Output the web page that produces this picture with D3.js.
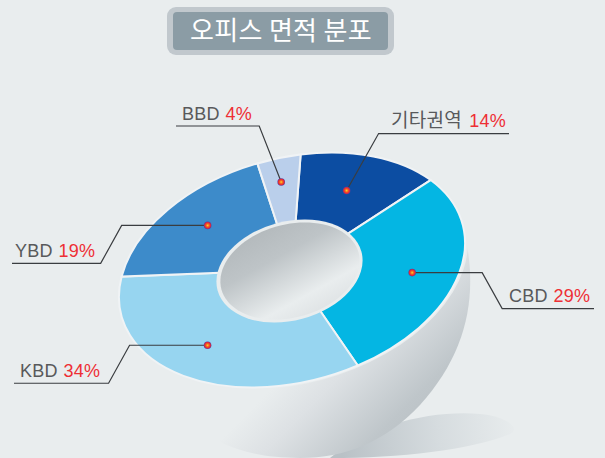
<!DOCTYPE html>
<html><head><meta charset="utf-8">
<script src="https://cdn.jsdelivr.net/npm/d3@7/dist/d3.min.js"></script>
<style>html,body{margin:0;padding:0;background:#e9edee;overflow:hidden}svg{display:block}
text{font-family:"Liberation Sans","Noto Sans CJK KR",sans-serif}</style></head><body>
<script>
const titleText = "오피스 면적 분포";
const categories = ["기타권역","CBD","KBD","YBD","BBD"];
const percents = [14,29,34,19,4];
const colors = ["#0c4da2","#04b6e3","#97d5f0","#3d8bca","#bacfeb"];
const dotRadii = [123,127,129,124,139];
const dotFractions = [0.478,0.496,0.525,0.526,0.486];
// leader layout: elbow dx, drop dy, end x, text x
const shelfDir = [[32,-57,509,391],[70,36,594,509],[-78,38,14,20],[-86,38,12,15],[-22,-56,176,182]];
const cx=292, cy=270, tilt=-15, squash=0.634, R=176.6, r0=74, start=12.5;
const bg="#e9edee";

const svg=d3.select("body").append("svg").attr("width",605).attr("height",458);
const defs=svg.append("defs");
function lin(id,x1,y1,x2,y2,stops){const g=defs.append("linearGradient").attr("id",id).attr("gradientUnits","userSpaceOnUse")
 .attr("x1",x1).attr("y1",y1).attr("x2",x2).attr("y2",y2);
 stops.forEach(s=>g.append("stop").attr("offset",s[0]).attr("stop-color",s[1]));}
lin("bowl",330,330,425,425,[[0,bg],[0.3,"#dde1e4"],[0.8,"#bfc6ca"],[1,"#bac1c5"]]);
lin("shadow",340,440,520,420,[[0,"#b9c1c6"],[0.55,"#d6dcdf"],[1,bg]]);
lin("hole",265,228,316,320,[[0,"#b4babd"],[0.3,"#bec4c7"],[0.75,bg],[1,"#dde1e3"]]);
const dg=defs.append("radialGradient").attr("id","dot");
[[0,"#ffd52a"],[0.4,"#f5641f"],[0.75,"#e2263a"],[1,"#5a3f9a"]].forEach(s=>dg.append("stop").attr("offset",s[0]).attr("stop-color",s[1]));

// title
svg.append("rect").attr("x",167).attr("y",7).attr("width",227).attr("height",48).attr("rx",9).attr("fill","#c1c8cd");
svg.append("rect").attr("x",173).attr("y",12).attr("width",215).attr("height",38).attr("rx",4).attr("fill","#8b9ca5");
svg.append("text").attr("x",281).attr("y",39.5).attr("text-anchor","middle").attr("font-size",26).attr("letter-spacing",0.3).attr("fill","#fff")
 .style("font-family","'Noto Sans CJK KR'").text(titleText);

// floor shadow and bowl
svg.append("path").attr("d","M330,458 C370,425 430,410 480,414 C505,416 522,428 510,434 C470,450 400,458 330,458 Z").attr("fill","url(#shadow)");
svg.append("path").attr("d","M466,240 C478,300 465,355 420,405 C385,442 345,458 300,458 C265,458 240,452 218,441 L150,330 Z").attr("fill","url(#bowl)");

// donut
const g=svg.append("g").attr("transform",`translate(${cx},${cy}) rotate(${tilt}) scale(1,${squash})`);
g.append("circle").attr("r",R+3).attr("fill",bg);
const toRad=d=>d*Math.PI/180;
const pie=d3.pie().sort(null).startAngle(toRad(start)).endAngle(toRad(start+360)).value(d=>d);
const arcs=pie(percents);
const arc=d3.arc().innerRadius(r0-6).outerRadius(R);
g.selectAll("path.s").data(arcs).join("path").attr("class","s").attr("d",arc).attr("fill",(d,i)=>colors[i])
 .attr("stroke","#f0f3f5").attr("stroke-width",2).style("vector-effect","non-scaling-stroke");
// hole: light rim, then the shaded fill; the fill is a path so its gradient stays in page space
svg.append("ellipse").attr("rx",74.5).attr("ry",49.5).attr("transform",`translate(289.5,271) rotate(${tilt})`).attr("fill",bg);
const el=(rx,ry,ox,oy)=>{const p=d3.path();const c=Math.cos(toRad(tilt)),s=Math.sin(toRad(tilt));
 d3.range(0,361,4).forEach((t,i)=>{const a=toRad(t),x=rx*Math.cos(a),y=ry*Math.sin(a),X=ox+x*c-y*s,Y=oy+x*s+y*c;i?p.lineTo(X,Y):p.moveTo(X,Y);});p.closePath();return p.toString();};
svg.append("path").attr("d",el(71,46.5,290,271)).attr("fill","url(#hole)");

// leaders, dots, labels
const rad=tilt*Math.PI/180;
const screen=(x,y)=>{y*=squash;return [cx+x*Math.cos(rad)-y*Math.sin(rad),cy+x*Math.sin(rad)+y*Math.cos(rad)];};
arcs.forEach((a,i)=>{
 const m=a.startAngle+(a.endAngle-a.startAngle)*dotFractions[i]-Math.PI/2;
 const [dx,dy]=screen(dotRadii[i]*Math.cos(m),dotRadii[i]*Math.sin(m));
 const [ex,ey,endX,textX]=shelfDir[i];
 const shelfY=dy+ey;
 const pts = i===1 ? [[dx,dy],[dx+ex,dy],[dx+ex+20,shelfY],[endX,shelfY]]
   : i===2||i===3 ? [[dx,dy],[dx+ex,dy],[dx+ex-21,shelfY],[endX,shelfY]]
   : [[dx,dy],[dx+ex,shelfY],[endX,shelfY]];
 svg.append("path").attr("d",d3.line()(pts)).attr("fill","none").attr("stroke","#3a3d40").attr("stroke-width",1.2);
 svg.append("circle").attr("cx",dx).attr("cy",dy).attr("r",3.8).attr("fill","url(#dot)");
 const t=svg.append("text").attr("x",textX).attr("y",shelfY-6.5).attr("font-size",18).attr("fill","#58595b").attr("letter-spacing",0.3).attr("word-spacing",i===0?1.5:0.2);
 t.append("tspan").attr("font-size",i===0?19:18).text(categories[i]+" ");
 t.append("tspan").attr("fill","#ee2f35").text(percents[i]+"%");
});
</script></body></html>
